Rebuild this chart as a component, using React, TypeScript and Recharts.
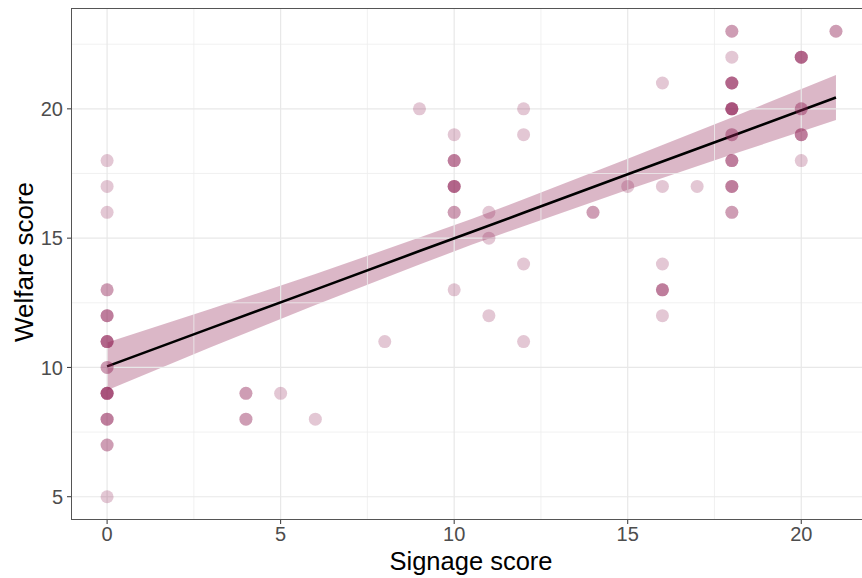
import { Area, ComposedChart, Line, ReferenceLine, Scatter, XAxis, YAxis } from 'recharts';

// observed points: signage score, welfare score, number of overlapping respondents
const pointX = [0, 0, 0, 0, 0, 0, 0, 0, 0, 0, 0, 4, 4, 5, 6, 8, 9, 10, 10, 10, 10, 10, 11, 11, 11, 12, 12, 12, 12, 14, 15, 16, 16, 16, 16, 16, 17, 18, 18, 18, 18, 18, 18, 18, 18, 20, 20, 20, 20, 21];
const pointY = [18, 17, 16, 13, 12, 11, 10, 9, 8, 7, 5, 9, 8, 9, 8, 11, 20, 19, 18, 17, 16, 13, 16, 15, 12, 20, 19, 14, 11, 16, 17, 21, 17, 14, 13, 12, 17, 23, 22, 21, 20, 19, 18, 17, 16, 22, 20, 19, 18, 23];
const pointN = [1, 1, 1, 2, 3, 4, 2, 5, 3, 2, 1, 2, 2, 1, 1, 1, 1, 1, 3, 4, 2, 1, 1, 1, 1, 1, 1, 1, 1, 2, 1, 1, 1, 1, 3, 1, 1, 2, 1, 4, 5, 2, 3, 3, 2, 4, 2, 3, 1, 2];

// linear fit and its 95% band
const fitX = [0, 3, 6, 9, 10.5, 12, 15, 18, 21];
const fitY = [10.04, 11.53, 13.01, 14.5, 15.24, 15.98, 17.47, 18.95, 20.44];
const bandLow = [9.12, 10.79, 12.41, 13.98, 14.74, 15.46, 16.87, 18.23, 19.57];
const bandHigh = [10.96, 12.27, 13.61, 15.02, 15.74, 16.5, 18.07, 19.67, 21.31];

const xTicks = [0, 5, 10, 15, 20];
const yTicks = [5, 10, 15, 20];
const xMinor = [2.5, 7.5, 12.5, 17.5];
const yMinor = [7.5, 12.5, 17.5, 22.5];

const POINT = '#8E1F52';

const points: { x: number; y: number }[] = [];
pointX.forEach((x, i) => {
  for (let k = 0; k < pointN[i]; k++) points.push({ x, y: pointY[i] });
});

const bandRows = fitX.map((x, i) => ({
  x,
  fit: fitY[i],
  band: [bandLow[i], bandHigh[i]],
}));

const tickStyle = { fontSize: 20, fill: '#4D4D4D', fontFamily: 'Liberation Sans, Arial, sans-serif' };

export default function App() {
  return (
    <div style={{ position: 'absolute', left: 0, top: 0, width: 862, height: 578, background: '#fff' }}>
      <ComposedChart width={862} height={578} data={bandRows} margin={{ top: 8, right: 0, bottom: 0, left: 0 }}>
        {xMinor.map((v) => (
          <ReferenceLine key={'xm' + v} x={v} stroke="#EEEEEE" strokeWidth={0.8} />
        ))}
        {yMinor.map((v) => (
          <ReferenceLine key={'ym' + v} y={v} stroke="#EEEEEE" strokeWidth={0.8} />
        ))}
        {xTicks.map((v) => (
          <ReferenceLine key={'xM' + v} x={v} stroke="#E8E8E8" strokeWidth={1.2} />
        ))}
        {yTicks.map((v) => (
          <ReferenceLine key={'yM' + v} y={v} stroke="#E8E8E8" strokeWidth={1.2} />
        ))}
        <XAxis
          type="number"
          dataKey="x"
          domain={[-1.04, 21.75]}
          allowDataOverflow
          ticks={xTicks}
          height={58}
          tick={tickStyle}
          tickSize={4}
          tickMargin={3}
          tickLine={{ stroke: '#333' }}
          axisLine={false}
        />
        <YAxis
          type="number"
          dataKey="y"
          domain={[4.1, 23.9]}
          allowDataOverflow
          ticks={yTicks}
          width={71}
          tick={tickStyle}
          tickSize={4}
          tickMargin={4}
          tickLine={{ stroke: '#333' }}
          axisLine={false}
        />
        <Scatter
          data={points}
          dataKey="y"
          isAnimationActive={false}
          shape={(p: any) => <circle cx={p.cx} cy={p.cy} r={6.5} fill={POINT} fillOpacity={0.25} />}
        />
        <Area
          type="linear"
          dataKey="band"
          stroke="none"
          fill={POINT}
          fillOpacity={0.32}
          isAnimationActive={false}
        />
        <Line type="linear" dataKey="fit" stroke="#000" strokeWidth={2.6} dot={false} isAnimationActive={false} />
      </ComposedChart>
      <svg
        width={862}
        height={578}
        style={{ position: 'absolute', left: 0, top: 0, pointerEvents: 'none' }}
        fontFamily="Liberation Sans, Arial, sans-serif"
      >
        <rect x={71.5} y={8.5} width={820} height={511} fill="none" stroke="#555" strokeWidth={1} />
        <text x={471} y={570} textAnchor="middle" fontSize={25.5} fill="#000">
          Signage score
        </text>
        <text x={33} y={262} textAnchor="middle" fontSize={26} fill="#000" transform="rotate(-90 33 262)">
          Welfare score
        </text>
      </svg>
    </div>
  );
}
